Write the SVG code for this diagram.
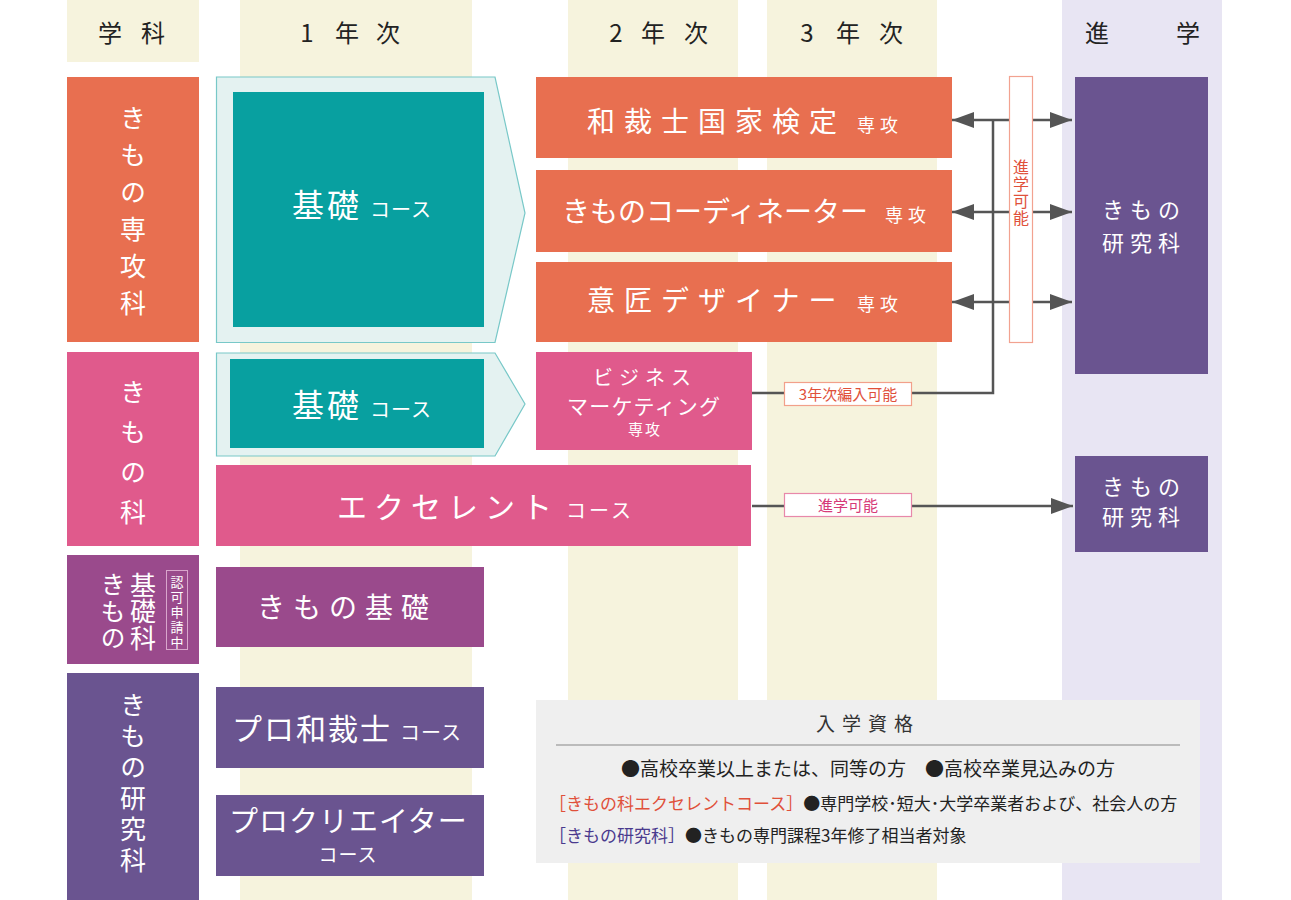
<svg xmlns="http://www.w3.org/2000/svg" width="1291" height="900" viewBox="0 0 1291 900">
<style>
text{font-family:"Noto Sans CJK JP","Noto Sans",sans-serif;}
.hd{font-size:24px;fill:#222;text-anchor:middle;}
.w{fill:#fff;}
.c{text-anchor:middle;}
.v{writing-mode:vertical-rl;text-orientation:upright;}
.orange{fill:#e86f50;}
.pink{fill:#e05a8c;}
.teal{fill:#08a0a0;}
.mag{fill:#9a4a8c;}
.purp{fill:#6a5490;}
.cream{fill:#f6f3dd;}
.lav{fill:#e8e5f3;}
.outer{fill:#e4f2f1;stroke:#78c8c8;stroke-width:1.2;}
.conn{stroke:#555;stroke-width:2.5;fill:none;}
.arr{stroke:#555;stroke-width:2.5;fill:none;marker-end:url(#ah);}
.info{font-size:17px;fill:#222;}
.info2{font-size:19px;fill:#222;}
</style>
<defs>
<marker id="ah" markerUnits="userSpaceOnUse" markerWidth="22" markerHeight="16" refX="22" refY="8" orient="auto">
<path d="M0,0 L22,8 L0,16 z" fill="#555"/>
</marker>
</defs>
<rect width="1291" height="900" fill="#fff"/>
<g id="columns">
<rect class="cream" x="67" y="0" width="132" height="62"/>
<rect class="cream" x="240" y="0" width="232" height="900"/>
<rect class="cream" x="568" y="0" width="170" height="900"/>
<rect class="cream" x="767" y="0" width="170" height="900"/>
<rect class="lav" x="1062" y="0" width="160" height="900"/>
<text class="hd" y="42"><tspan x="110">学</tspan><tspan x="153">科</tspan></text>
<text class="hd" y="42"><tspan x="307">1</tspan><tspan x="347">年</tspan><tspan x="388">次</tspan></text>
<text class="hd" y="42"><tspan x="616">2</tspan><tspan x="653">年</tspan><tspan x="696">次</tspan></text>
<text class="hd" y="42"><tspan x="807">3</tspan><tspan x="848">年</tspan><tspan x="891">次</tspan></text>
<text class="hd" y="42"><tspan x="1097">進</tspan><tspan x="1188">学</tspan></text>
</g>
<g id="dept-senkoka">
<rect class="orange" x="67" y="77" width="132" height="265"/>
<text class="w v" x="133" y="105" font-size="26" letter-spacing="11">きもの専攻科</text>
</g>
<g id="dept-kimonoka">
<rect class="pink" x="67" y="352" width="132" height="194"/>
<text class="w v" x="133" y="379" font-size="26" letter-spacing="14">きもの科</text>
</g>
<g id="dept-kisoka">
<rect class="mag" x="67" y="555" width="132" height="109"/>
<text class="w v" x="113" y="572" font-size="25" letter-spacing="1.5">きもの</text>
<text class="w v" x="143" y="572" font-size="26" letter-spacing="0.5">基礎科</text>
<rect x="166.5" y="570.5" width="21" height="79" fill="none" stroke="#d9a6cc" stroke-width="1"/>
<text class="w v" x="177" y="576" font-size="13" letter-spacing="2">認可申請中</text>
</g>
<g id="dept-kenkyuka">
<rect class="purp" x="67" y="673" width="132" height="227"/>
<text class="w v" x="133" y="692" font-size="26" letter-spacing="5">きもの研究科</text>
</g>
<g id="kiso-course-1">
<polygon class="outer" points="216.5,77 495,77 525,213 495,342.5 216.5,342.5"/>
<rect class="teal" x="233" y="92" width="251" height="235"/>
<text class="w" y="217"><tspan x="292" font-size="32" letter-spacing="3">基礎</tspan><tspan x="370" font-size="20" letter-spacing="1">コース</tspan></text>
</g>
<g id="kiso-course-2">
<polygon class="outer" points="216.5,353 495,353 525,404 495,456 216.5,456"/>
<rect class="teal" x="230" y="359" width="254" height="89"/>
<text class="w" y="417"><tspan x="292" font-size="32" letter-spacing="3">基礎</tspan><tspan x="370" font-size="20" letter-spacing="1">コース</tspan></text>
</g>
<g id="excellent-course">
<rect class="pink" x="216" y="465" width="535" height="81"/>
<text class="w" y="518"><tspan x="337" font-size="30" letter-spacing="7">エクセレント</tspan><tspan x="566" font-size="20" letter-spacing="3">コース</tspan></text>
</g>
<g id="kimono-kiso">
<rect class="mag" x="216" y="567" width="268" height="80"/>
<text class="w" x="257" y="618" font-size="28" letter-spacing="8">きもの基礎</text>
</g>
<g id="pro-wasaishi">
<rect class="purp" x="216" y="687" width="268" height="81"/>
<text class="w" y="740"><tspan x="232" font-size="30" letter-spacing="2">プロ和裁士</tspan><tspan x="400" font-size="20" letter-spacing="1">コース</tspan></text>
</g>
<g id="pro-creator">
<rect class="purp" x="216" y="795" width="268" height="81"/>
<text class="w" x="229" y="832" font-size="29" letter-spacing="1">プロクリエイター</text>
<text class="w c" x="348" y="862" font-size="19" letter-spacing="1">コース</text>
</g>
<g id="senko-wasai">
<rect class="orange" x="536" y="77" width="416" height="81"/>
<text class="w" y="132"><tspan x="587" font-size="28" letter-spacing="9">和裁士国家検定</tspan><tspan x="857" font-size="18" letter-spacing="5">専攻</tspan></text>
</g>
<g id="senko-coordinator">
<rect class="orange" x="536" y="170" width="416" height="82"/>
<text class="w" y="222"><tspan x="562" font-size="28">きものコーディネーター</tspan><tspan x="885" font-size="18" letter-spacing="5">専攻</tspan></text>
</g>
<g id="senko-designer">
<rect class="orange" x="536" y="262" width="416" height="80"/>
<text class="w" y="311"><tspan x="587" font-size="28" letter-spacing="9">意匠デザイナー</tspan><tspan x="857" font-size="18" letter-spacing="5">専攻</tspan></text>
</g>
<g id="senko-business">
<rect class="pink" x="536" y="352" width="216" height="98"/>
<text class="w" x="593" y="385" font-size="20" letter-spacing="6">ビジネス</text>
<text class="w" x="567" y="414" font-size="21" letter-spacing="1.3">マーケティング</text>
<text class="w c" x="645" y="435" font-size="15" letter-spacing="2">専攻</text>
</g>
<g id="kenkyuka-1">
<rect class="purp" x="1075" y="77" width="133" height="297"/>
<text class="w c" x="1144" y="218" font-size="22" letter-spacing="6">きもの</text>
<text class="w c" x="1144" y="251" font-size="22" letter-spacing="6">研究科</text>
</g>
<g id="kenkyuka-2">
<rect class="purp" x="1075" y="456" width="133" height="96"/>
<text class="w c" x="1144" y="495" font-size="22" letter-spacing="6">きもの</text>
<text class="w c" x="1144" y="525" font-size="22" letter-spacing="6">研究科</text>
</g>
<g id="connectors">
<path class="conn" d="M752,393 H993 V120"/>
<path class="arr" d="M1009,120 H952"/>
<path class="arr" d="M1009,212 H952"/>
<path class="arr" d="M1009,302 H952"/>
<path class="arr" d="M1033,120 H1072"/>
<path class="arr" d="M1033,212 H1072"/>
<path class="arr" d="M1033,302 H1072"/>
<path class="arr" d="M752,506 H1073"/>
</g>
<g id="labels">
<rect x="1009.5" y="76.5" width="23" height="266" fill="#fff" stroke="#f2a290" stroke-width="1.2"/>
<text class="v" x="1021" y="159" font-size="16" letter-spacing="1" fill="#e0503a">進学可能</text>
<rect x="784.5" y="382.5" width="127" height="23" fill="#fff" stroke="#f2a08a" stroke-width="1.2"/>
<text class="c" x="848" y="400" font-size="15" fill="#e0503a">3年次編入可能</text>
<rect x="784.5" y="493.5" width="127" height="23" fill="#fff" stroke="#e888aa" stroke-width="1.2"/>
<text class="c" x="848" y="511" font-size="15" fill="#d63a78">進学可能</text>
</g>
<g id="admission">
<rect x="536" y="700" width="664" height="163" fill="#efefef"/>
<text class="c" x="868" y="731" font-size="19" letter-spacing="7" fill="#333">入学資格</text>
<line x1="556" y1="745" x2="1180" y2="745" stroke="#aaa" stroke-width="1.5"/>
<text class="info2 c" x="868" y="776">●高校卒業以上または、同等の方　●高校卒業見込みの方</text>
<text class="info" x="549" y="810"><tspan fill="#e0503a">［きもの科エクセレントコース］</tspan>●専門学校･短大･大学卒業者および、社会人の方</text>
<text class="info" x="549" y="842"><tspan fill="#4a3a8e">［きもの研究科］</tspan>●きもの専門課程3年修了相当者対象</text>
</g>
</svg>
